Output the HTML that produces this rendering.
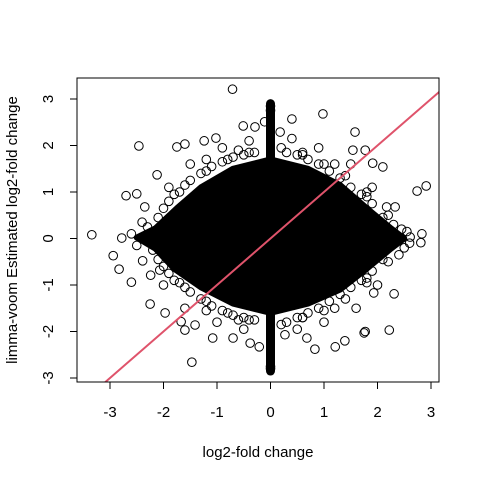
<!DOCTYPE html>
<html><head><meta charset="utf-8"><style>
html,body{margin:0;padding:0;background:#fff}
svg{display:block;font-family:"Liberation Sans",sans-serif}
</style></head><body>
<svg id="chart" width="480" height="480" viewBox="0 0 480 480" xmlns="http://www.w3.org/2000/svg">
<defs><clipPath id="clip"><rect x="77" y="78" width="362" height="304"/></clipPath></defs>
<g id="marks" clip-path="url(#clip)"></g>
<rect x="77" y="78" width="362" height="304" fill="none" stroke="#000" stroke-width="1"/>
<g id="axes"></g>
<text x="258" y="457" text-anchor="middle" font-size="15">log2-fold change</text>
<text transform="translate(17,230) rotate(-90)" text-anchor="middle" font-size="15">limma-voom Estimated log2-fold change</text>
</svg>
<script>
const xTicks = [-3,-2,-1,0,1,2,3];
const yTicks = [-3,-2,-1,0,1,2,3];
const coreShape = [[-2.5,0.02],[-2.15,0.22],[-1.75,0.65],[-1.3,1.1],[-0.7,1.5],[0,1.7],[0.7,1.5],[1.3,1.15],[1.8,0.65],[2.25,0.22],[2.5,0.0],[2.25,-0.22],[1.8,-0.65],[1.3,-1.1],[0.7,-1.4],[0,-1.6],[-0.7,-1.4],[-1.3,-1.05],[-1.8,-0.65],[-2.15,-0.22]];
const stripY = [-2.85, 2.9];
const ptsX = [-0.71,-2.46,-3.34,-2.94,-2.83,-2.6,-2.25,-1.97,-1.47,-1.08,-0.70,-0.38,-0.21,0.83,1.21,1.39,1.77,2.22,2.31,2.81,2.83,2.91,2.74,2.10,1.58,0.98,0.40,-0.51,-0.29,-1.60,-1.75,-1.24,-1.02,-2.70,-2.5,-2.12,-2.78,1.77,1.91,1.54,0.18,-0.11,-1.67,-1.60,-1.41,0.27,0.68,1.75,1.93,2.33,2.45,2.61,2.17,-2.35,-2.39,-2.07,-2.24,-1.9,-1.5,-0.9,-0.4,0.4,0.9,1.5,1.9,2.0,1.6,1.0,0.5,-0.5,-1.0,-1.6,-2.0,-2.4,2.4,0,0,0,0,
 -1.9,-1.7,-1.5,-1.3,-1.1,-0.9,-0.7,-0.5,-0.3,0.3,0.5,0.7,0.9,1.1,1.3,1.5,1.7,1.9,2.1,-2.1,
 -1.9,-1.7,-1.5,-1.3,-1.1,-0.9,-0.7,-0.5,-0.3,0.3,0.5,0.7,0.9,1.1,1.3,1.5,1.7,1.9,2.1,-2.1,
 -2.3,-2.2,2.3,2.5,-1.2,-0.6,0.6,1.2,-1.2,-0.6,0.6,1.2,-1.8,1.8,-1.8,1.8,
 -2.0,-1.6,-1.2,-0.8,-0.4,0.2,0.6,1.0,1.4,1.8,2.2,-2.0,-1.6,-1.2,-0.8,-0.4,0.2,0.6,1.0,1.4,1.8,2.2,-2.6,2.6,-2.5,2.55];
const ptsY = [3.21,1.99,0.08,-0.37,-0.66,-0.94,-1.41,-1.6,-2.66,-2.14,-2.14,-2.25,-2.33,-2.38,-2.33,-2.2,-2.0,-1.97,-1.19,-0.09,0.1,1.13,1.02,1.54,2.29,2.68,2.57,2.42,2.40,2.03,1.97,2.10,2.16,0.92,0.96,1.37,0.01,1.90,1.62,1.90,2.29,2.51,-1.79,-1.97,-1.86,-2.07,-2.14,-2.03,-1.17,0.68,0.20,0.03,0.68,0.68,-0.48,-0.68,-0.79,1.1,1.6,1.95,2.1,2.15,1.95,1.6,1.1,-1.0,-1.5,-1.8,-1.95,-1.95,-1.8,-1.5,-1.0,0.35,-0.35,2.75,2.85,-2.75,-2.8,
 0.8,1.0,1.25,1.4,1.55,1.65,1.75,1.8,1.85,1.85,1.8,1.7,1.6,1.45,1.3,1.1,0.95,0.75,0.45,0.45,
 -0.75,-0.95,-1.15,-1.3,-1.45,-1.55,-1.65,-1.7,-1.75,-1.8,-1.7,-1.6,-1.5,-1.35,-1.2,-1.05,-0.9,-0.7,-0.45,-0.45,
 0.25,-0.25,0.3,-0.2,1.7,1.9,1.85,1.6,-1.55,-1.75,-1.7,-1.5,0.95,0.9,-0.9,-0.85,
 0.65,1.15,1.45,1.7,1.85,1.95,1.8,1.6,1.35,1.0,0.5,-0.6,-1.05,-1.35,-1.6,-1.75,-1.85,-1.7,-1.55,-1.3,-0.95,-0.5,0.1,-0.1,-0.15,0.15];
const NS="http://www.w3.org/2000/svg";
const sx = v => 270.5 + v*53.5;
const sy = v => 238.5 - v*46.5;
const marks = document.getElementById('marks');
const axes = document.getElementById('axes');
function mk(tag, attrs, parent){const e=document.createElementNS(NS,tag);for(const k in attrs)e.setAttribute(k,attrs[k]);parent.appendChild(e);return e;}
const core = mk('polygon',{points:coreShape.map(p=>sx(p[0])+','+sy(p[1])).join(' '),fill:'#000',stroke:'#000','stroke-width':6,'stroke-linejoin':'round'},marks);


const strip = mk('line',{x1:sx(0),x2:sx(0),y1:sy(stripY[0]),y2:sy(stripY[1]),stroke:'#000','stroke-width':9,'stroke-linecap':'round'},marks);


for(let i=0;i<ptsX.length;i++){
  const c = mk('circle',{cx:sx(ptsX[i]),cy:sy(ptsY[i]),r:4.3,fill:'none',stroke:'#000','stroke-width':1},marks);
  
  
}
const ref = mk('line',{x1:sx(-4),y1:sy(-4),x2:sx(4),y2:sy(4),stroke:'#DF536B','stroke-width':2},marks);


const xl = mk('line',{x1:sx(xTicks[0]),x2:sx(xTicks[xTicks.length-1]),y1:382,y2:382,stroke:'#000'},axes);


xTicks.forEach(t=>{
  const tk = mk('line',{x1:sx(t),x2:sx(t),y1:382,y2:389,stroke:'#000'},axes);
  
  
  const tx = mk('text',{x:sx(t),y:417,'text-anchor':'middle','font-size':15},axes);
  tx.textContent = String(t);
  
  
});
const yl = mk('line',{x1:77,x2:77,y1:sy(yTicks[0]),y2:sy(yTicks[yTicks.length-1]),stroke:'#000'},axes);


yTicks.forEach(t=>{
  const tk = mk('line',{x1:70,x2:77,y1:sy(t),y2:sy(t),stroke:'#000'},axes);
  
  
  const tx = mk('text',{transform:'translate(53,'+sy(t)+') rotate(-90)','text-anchor':'middle','font-size':15},axes);
  tx.textContent = String(t);
  
  
});
</script>
</body></html>
